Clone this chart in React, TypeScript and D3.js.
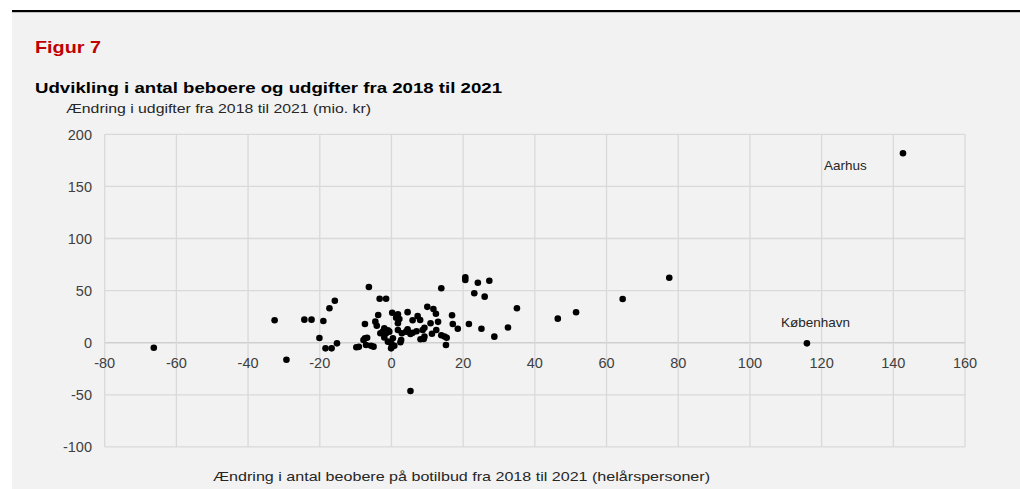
import React from "react";
import * as d3 from "d3";

// Change in residents (x) and change in expenses (y), one entry per municipality
const beboere = [
  -66.3, -32.6, -29.3, -24.3, -22.3, -20.1, -19.0, -18.4, -17.3, -16.7, -15.8, -15.2,
  -9.8, -9.1, -7.8, -7.4, -7.4, -7.1, -6.8, -6.3, -5.7, -5.0, -4.5, -4.1, -3.7, -3.3,
  -3.1, -2.4, -2.0, -2.0, -1.5, -1.5, -1.0, -1.0, -0.6, 0.0, -0.1, 0.4, 0.8, 0.2, 1.3,
  1.8, 2.2, 1.8, 1.8, 2.5, 2.7, 2.9, 4.5, 4.1, 4.5, 5.3, 5.9, 5.9, 5.3, 7.3, 7.0, 8.0,
  8.1, 8.7, 9.0, 9.2, 9.2, 10.0, 10.9, 11.3, 11.7, 12.4, 12.5, 13.0, 13.9, 13.9, 14.8,
  15.4, 15.2, 16.9, 17.1, 18.5, 20.6, 20.6, 21.6, 23.1, 24.1, 25.1, 26.0, 27.3, 28.7,
  32.5, 35.0, 46.4, 51.5, 64.5, 77.5, 115.9, 142.7,
];
const udgifter = [
  -4.8, 21.5, -16.3, 22.1, 22.1, 4.5, 20.8, -5.4, 33.0, -5.4, 40.3, -0.6,
  -4.4, -4.0, 2.6, 17.9, 4.2, -2.2, 4.8, 53.5, -2.9, -3.8, 20.2, 16.3, 26.6, 42.2,
  9.0, 10.6, 13.8, 5.0, 42.2, 9.0, 12.0, 1.0, 10.6, -1.0, -5.4, 4.2, -3.0, 28.8, 24.0,
  27.3, 22.7, 18.6, 12.2, 0.4, 2.6, 9.0, 29.3, 10.6, 12.9, 8.3, 9.6, 21.5, -46.4, 25.5, 11.0, 21.8,
  3.3, 12.2, 3.6, 14.4, 5.8, 34.4, 18.6, 8.6, 32.3, 27.8, 12.2, 20.0, 7.1, 52.2, 6.0,
  4.8, -2.2, 26.3, 17.9, 13.4, 62.7, 60.2, 17.9, 47.4, 57.6, 13.4, 44.2, 59.5, 5.8,
  14.6, 33.0, 23.1, 29.2, 41.9, 62.4, -0.6, 181.8,
];

const xTicks = [-80, -60, -40, -20, 0, 20, 40, 60, 80, 100, 120, 140, 160];
const yTicks = [-100, -50, 0, 50, 100, 150, 200];

const annotations = [
  { label: "Aarhus", x: 142.7, y: 181.8 },
  { label: "København", x: 115.9, y: -0.6 },
];

const figurLabel = "Figur 7";
const subtitle = "Udvikling i antal beboere og udgifter fra 2018 til 2021";
const yTitle = "Ændring i udgifter fra 2018 til 2021 (mio. kr)";
const xTitle = "Ændring i antal beobere på botilbud fra 2018 til 2021 (helårspersoner)";

export default function App() {
  const W = 1020;
  const H = 489;
  const x = d3.scaleLinear().domain([-80, 160]).range([104.7, 965]);
  const y = d3.scaleLinear().domain([-100, 200]).range([446.9, 134.3]);
  const font = "'Liberation Sans', Arial, sans-serif";
  const grid = "#d9d9d9";
  const tickColor = "#404040";

  const annotOffsets: Record<string, [number, number]> = {
    Aarhus: [-79, 17],
    København: [-26, -16],
  };

  return (
    <div style={{ position: "absolute", left: 0, top: 0 }}>
      <svg width={W} height={H} style={{ display: "block" }} fontFamily={font}>
        <rect x={0} y={0} width={W} height={H} fill="#ffffff" />
        <rect x={12} y={12} width={W - 12} height={H - 12} fill="#f2f2f2" />
        <rect x={12} y={10} width={W - 12} height={2.2} fill="#000000" />

        <text x={35} y={53} fontSize={17} fontWeight="bold" fill="#c00000"
          textLength={66} lengthAdjust="spacingAndGlyphs">{figurLabel}</text>
        <text x={35} y={93} fontSize={15.5} fontWeight="bold" fill="#000000"
          textLength={467} lengthAdjust="spacingAndGlyphs">{subtitle}</text>
        <text x={66} y={112.5} fontSize={13} fill="#262626"
          textLength={305} lengthAdjust="spacingAndGlyphs">{yTitle}</text>

        {/* grid */}
        {yTicks.map((t) => (
          <line key={"h" + t} x1={x(-80)} x2={x(160)} y1={y(t)} y2={y(t)}
            stroke={t === 0 ? "#cfcfcf" : grid} strokeWidth={t === 0 ? 1.6 : 1.3} />
        ))}
        {xTicks.map((t) => (
          <line key={"v" + t} x1={x(t)} x2={x(t)} y1={y(200)} y2={y(-100)}
            stroke={grid} strokeWidth={1.3} />
        ))}

        {/* y tick labels */}
        {yTicks.map((t) => (
          <text key={"yl" + t} x={92} y={y(t)} dy="0.36em" textAnchor="end"
            fontSize={14.5} fill={tickColor}>{t}</text>
        ))}
        {/* x tick labels */}
        {xTicks.map((t) => (
          <text key={"xl" + t} x={x(t)} y={368} textAnchor="middle"
            fontSize={14.5} fill={tickColor}>{t}</text>
        ))}

        {/* points */}
        {beboere.map((b, i) => (
          <circle key={"p" + i} cx={x(b)} cy={y(udgifter[i])} r={3.3} fill="#000000" />
        ))}

        {/* annotations */}
        {annotations.map((a) => (
          <text key={a.label} x={x(a.x) + annotOffsets[a.label][0]} y={y(a.y) + annotOffsets[a.label][1]}
            fontSize={13.5} fill="#262626">{a.label}</text>
        ))}

        <text x={213} y={480.5} fontSize={13} fill="#262626"
          textLength={497} lengthAdjust="spacingAndGlyphs">{xTitle}</text>
      </svg>
    </div>
  );
}
